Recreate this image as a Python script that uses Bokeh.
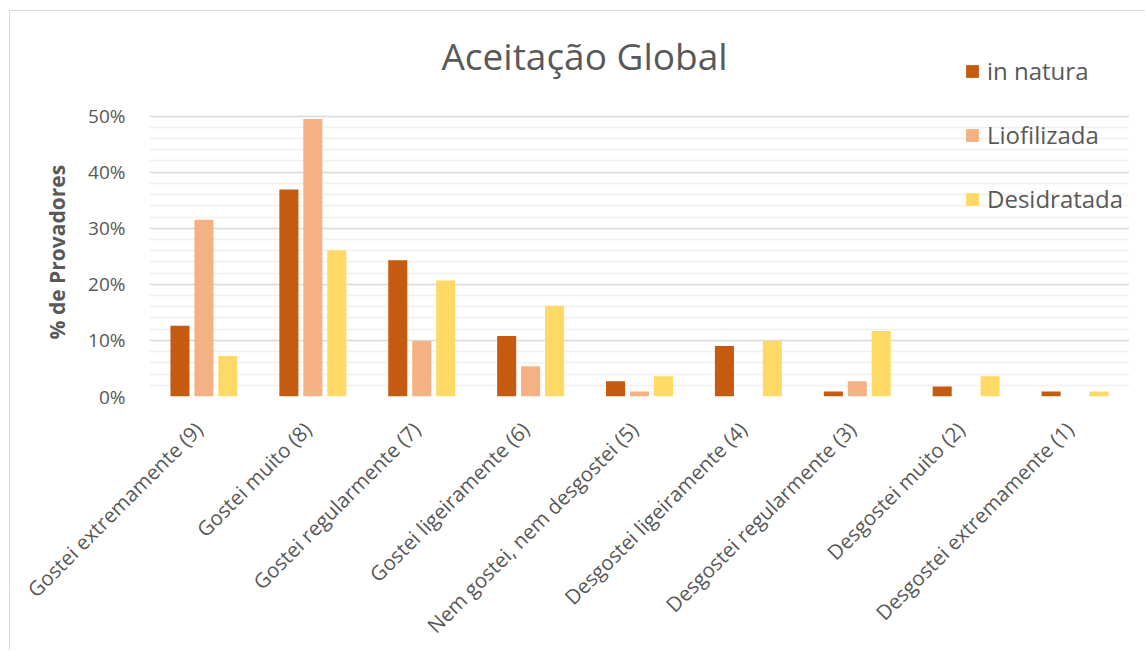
import math
from bokeh.plotting import figure
from bokeh.models import (ColumnDataSource, Range1d, FixedTicker, LinearAxis,
                          NumeralTickFormatter, Legend, LegendItem, Label)
from bokeh.transform import dodge
from bokeh.embed import file_html
from bokeh.resources import INLINE

categories = ["Gostei extremamente (9)", "Gostei muito (8)", "Gostei regularmente (7)",
              "Gostei ligeiramente (6)", "Nem gostei, nem desgostei (5)",
              "Desgostei ligeiramente (4)", "Desgostei regularmente (3)",
              "Desgostei muito (2)", "Desgostei extremamente (1)"]
in_natura = [12.6, 36.9, 24.3, 10.8, 2.7, 9.0, 0.9, 1.8, 0.9]
liofilizada = [31.5, 49.5, 9.9, 5.4, 0.9, 0.0, 2.7, 0.0, 0.0]
desidratada = [7.2, 26.1, 20.7, 16.2, 3.6, 9.9, 11.7, 3.6, 0.9]
series_names = ["in natura", "Liofilizada", "Desidratada"]
series_colors = ["#C55A11", "#F4B183", "#FFD966"]
y_ticks = [0.0, 0.1, 0.2, 0.3, 0.4, 0.5]
y_minor = [i / 100 for i in range(2, 50, 2) if i % 10 != 0]
title_text = "Aceitação Global"
y_label = "% de Provadores"

n = len(categories)
pos = [i + 0.5 for i in range(n)]  # category slot centres
source = ColumnDataSource(dict(
    cat=categories, pos=pos,
    s0=[v / 100 for v in in_natura],
    s1=[v / 100 for v in liofilizada],
    s2=[v / 100 for v in desidratada],
))

TEXT = "#595959"
FONT = "Open Sans"

# layout geometry (pixels); plot origin sits at page (10, 11)
W, H = 1136, 640
frame_top, frame_bottom = 20 - 11, 396 - 11
px_per_half = 280.4
frame_h = frame_bottom - frame_top
y_end = 0.5 * frame_h / px_per_half

p = figure(x_range=Range1d(0, n), y_range=Range1d(0, y_end), title=None,
           width=W, height=H, output_backend="svg", toolbar_location=None,
           min_border_left=139, min_border_right=17,
           min_border_top=frame_top, min_border_bottom=H - frame_bottom)
p.margin = (10, 0, 0, 9)
p.styles = {"border-left": "1px solid #d9d9d9", "border-top": "1px solid #d9d9d9"}
p.outline_line_color = None
p.background_fill_color = "white"
p.border_fill_color = "white"

renderers = []
offsets = [-0.22, 0.0, 0.22]
for i, (name, col) in enumerate(zip(series_names, series_colors)):
    r = p.vbar(x=dodge("pos", offsets[i]), top=f"s{i}", width=0.175,
               source=source, fill_color=col, line_color=None)
    renderers.append(r)

# title drawn inside the chart area
p.add_layout(Label(x=435, y=341, x_units="screen", y_units="screen", text=title_text,
                   text_align="center", text_baseline="alphabetic",
                   text_font=FONT, text_font_size="37px", text_color=TEXT))

# y axis
p.yaxis.ticker = FixedTicker(ticks=y_ticks, minor_ticks=y_minor)
p.yaxis.formatter = NumeralTickFormatter(format="0%")
p.yaxis.axis_line_color = None
p.yaxis.major_tick_line_color = None
p.yaxis.minor_tick_line_color = None
p.yaxis.major_label_text_font = FONT
p.yaxis.major_label_text_font_size = "19px"
p.yaxis.major_label_text_color = TEXT
p.yaxis.major_label_standoff = 18
# trailing no-break spaces keep the label centred on the 0-50% band, not on the whole frame
p.yaxis.axis_label = y_label + "\u00a0" * 16
p.yaxis.axis_label_text_font = FONT
p.yaxis.axis_label_text_font_size = "21px"
p.yaxis.axis_label_text_font_style = "bold"
p.yaxis.axis_label_text_color = TEXT
p.yaxis.axis_label_standoff = 14

# x axis: main axis hidden, category labels drawn by a companion axis slightly shifted
p.xaxis.visible = False
shift = 0.05
p.extra_x_ranges = {"lab": Range1d(shift, n + shift)}
xax = LinearAxis(x_range_name="lab", ticker=FixedTicker(ticks=pos, minor_ticks=[]),
                 major_label_overrides={t: c for t, c in zip(pos, categories)})
xax.axis_line_color = None
xax.major_tick_line_color = None
xax.minor_tick_line_color = None
xax.major_label_orientation = math.pi / 4
xax.major_label_text_font = FONT
xax.major_label_text_font_size = "20.5px"
xax.major_label_text_color = TEXT
xax.major_label_standoff = 23
p.add_layout(xax, "below")

# grid
p.xgrid.grid_line_color = None
p.ygrid.grid_line_color = "#d9d9d9"
p.ygrid.grid_line_width = 1.5
p.ygrid.minor_grid_line_color = "#f0f0f0"
p.ygrid.minor_grid_line_width = 1.5

legend = Legend(items=[LegendItem(label=nm, renderers=[r]) for nm, r in zip(series_names, renderers)],
                location=(815, 396 - 215),
                orientation="vertical", padding=0, margin=0, spacing=31,
                label_height=30, glyph_height=16, glyph_width=16, label_standoff=7,
                label_text_font=FONT, label_text_font_size="24px", label_text_color=TEXT,
                label_text_baseline="middle",
                border_line_color=None, background_fill_alpha=0)
p.add_layout(legend, "center")

open("out.html", "w").write(file_html(p, INLINE))
